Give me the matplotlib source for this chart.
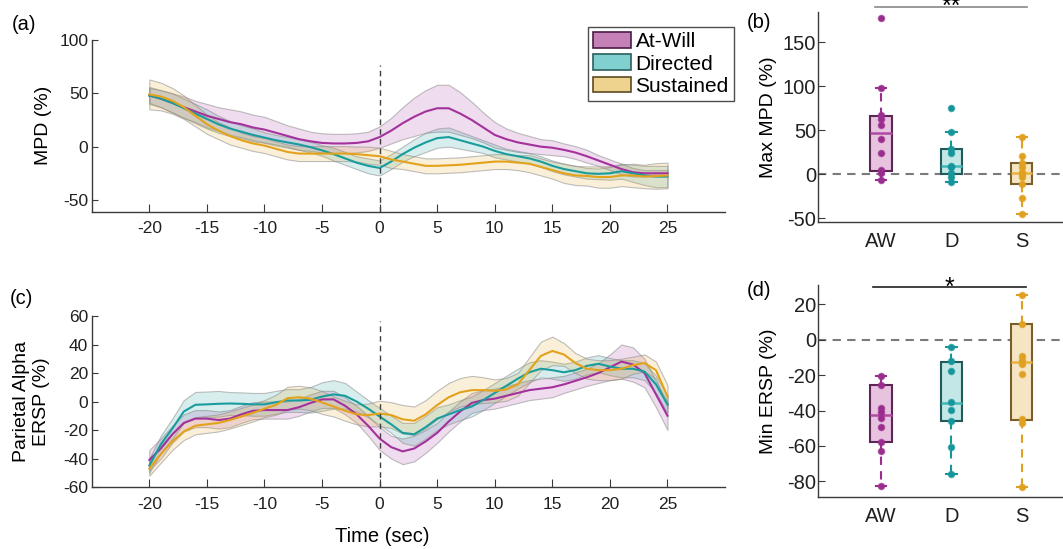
import numpy as np
import matplotlib
matplotlib.use("Agg")
import matplotlib.pyplot as plt
from matplotlib.patches import Patch

plt.rcParams['font.family'] = ['Liberation Sans', 'DejaVu Sans']
plt.rcParams['axes.unicode_minus'] = False

# ---- time courses (1 s steps, -20..25 s) ----
time = np.arange(-20, 26)

mpd_aw = [48, 45, 41, 37, 33, 29, 26, 23, 21, 18, 16, 13, 10, 7, 5, 3.5, 3, 3, 3.5, 5,
          9, 15, 22, 28, 33, 36, 36, 31, 25, 18, 11, 7, 4, 2, 0, -1, -3, -5.5, -9, -13,
          -17, -21, -24, -25, -25, -25]
mpd_aw_err = [7, 8, 9, 10, 10, 11, 11, 12, 12, 12, 12, 11, 10, 10, 9, 9, 9, 9, 9, 9,
              10, 12, 15, 18, 20, 22, 22, 20, 17, 14, 12, 10, 9, 8, 7, 7, 6, 6, 6, 5,
              5, 5, 4, 3, 3, 3]
mpd_d = [48, 45, 41, 36, 31, 26, 21, 17, 14, 11, 8.5, 6, 4, 2, -0.5, -3.5, -7, -11, -15, -18,
         -20, -14, -7, -1, 4, 8, 9, 6, 3, 0, -4, -7, -9, -11, -14, -18, -21, -23, -25, -25.5,
         -25, -23, -25, -27, -28, -28]
mpd_d_err = [8, 8, 9, 9, 9, 9, 8, 7, 6, 6, 5, 5, 5, 5, 5, 5, 6, 6, 6, 7,
             7, 7, 7, 8, 9, 9, 9, 8, 7, 6, 6, 5, 5, 5, 5, 5, 5, 5, 5, 5,
             6, 7, 8, 9, 10, 10]
mpd_s = [49, 47, 43, 37, 29, 21, 15, 10, 6, 3, 1, -2, -5, -6.5, -6.5, -6.5, -6.5, -6.5, -7, -8,
         -9, -12, -14, -16, -18, -18, -17.5, -17, -16, -15, -14, -14, -15, -16, -19, -22, -25, -27, -27.5, -28.5,
         -28.5, -27, -27, -28, -27.5, -27]
mpd_s_err = [14, 13, 12, 11, 10, 9, 8, 8, 7, 7, 7, 7, 7, 7, 7, 7, 7, 7, 7, 8,
             8, 8, 7, 7, 7, 7, 7, 7, 7, 7, 7, 7, 7, 8, 8, 8, 9, 9, 9, 10,
             10, 10, 11, 11, 12, 12]

ersp_aw = [-41, -33, -23, -15, -12, -12, -13, -12, -9, -6.5, -6, -6, -6, -4, -1, 1.5, 1.5, -3, -9, -17,
           -26, -32, -35, -33, -28, -22, -14, -7, -1, 1, 2, 4, 6, 8, 9, 10, 12, 14.5, 17, 20,
           24, 28, 26, 20, 5, -10]
ersp_aw_err = [7, 7, 6, 6, 6, 6, 6, 6, 6, 6, 6, 6, 6, 6, 6, 6, 6, 6, 6, 7,
               8, 8, 9, 9, 8, 7, 7, 7, 7, 7, 7, 7, 7, 7, 7, 7, 6, 6, 6, 7,
               9, 12, 12, 10, 9, 10]
ersp_d = [-45, -30, -19, -7, -2.3, -2, -1.6, -1.4, -1.6, -2, -2, -0.5, 0.7, 0.7, 1.2, 3.5, 5, 4, 0, -5,
          -10.5, -16, -22, -23, -18, -12, -9, -6, -3.5, 1, 6, 11, 16, 20.5, 23, 22, 20.5, 22, 25, 26.5,
          24.5, 23, 23, 21, 12, -2]
ersp_d_err = [5, 6, 7, 8, 9, 9, 9, 8, 8, 8, 8, 8, 8, 8, 9, 10, 10, 9, 7, 6,
              6, 6, 7, 8, 8, 8, 7, 7, 7, 7, 7, 7, 7, 7, 6, 6, 6, 6, 6, 6,
              6, 6, 6, 6, 6, 6]
ersp_s = [-47, -37, -28, -21, -17, -16, -15, -13, -10.5, -8, -5, -2.3, 2.3, 3, 2, -0.7, -3.5, -6.5, -9, -9.5,
          -8.4, -9.5, -12.5, -13.5, -9, -2.5, 3, 6.5, 8, 8, 7.5, 8.5, 12, 22, 32, 35.5, 33, 27, 23, 22,
          22, 23, 25.5, 27, 22, 3.5]
ersp_s_err = [5, 6, 6, 6, 6, 6, 6, 6, 6, 6, 6, 7, 8, 8, 8, 8, 7, 7, 7, 8,
              9, 9, 10, 10, 10, 10, 10, 10, 10, 9, 8, 8, 8, 9, 10, 10, 8, 7, 7, 7,
              7, 7, 6, 6, 6, 8]

# ---- box plot summaries ----
groups = ['AW', 'D', 'S']
max_mpd_pts = [[178, 98.5, 67, 63.5, 56, 40, 24.5, 5, 2, -6.5],
               [76, 48.5, 29, 24.5, 10, 8, 1, -2.7, -8.3],
               [42.4, 21, 12.5, 8.7, 3, 0.4, -2.7, -11.4, -26.5, -44.7]]
max_mpd_box = [(4.2, 47.3, 66.7, -6.5, 98.5), (0.4, 9.8, 28.4, -8.3, 48.5), (-11.4, 1.5, 12.5, -44.7, 42.4)]
min_ersp_pts = [[-20.2, -25.8, -38.7, -40.6, -44.3, -49.4, -57.5, -62.6, -82.6],
                [-4.3, -11.9, -17.4, -35.3, -39.6, -45.8, -60.4, -75.7],
                [25.1, 9.2, -9.2, -11.5, -13.8, -19.2, -44.9, -47.2, -83.2]]
min_ersp_box = [(-57.5, -42.5, -25.8, -82.6, -20.2), (-45.8, -35.5, -12.3, -75.7, -4.3), (-45.3, -12.3, 9.2, -83.2, 25.1)]

labels = ['At-Will', 'Directed', 'Sustained']
line_c = ['#a3329c', '#1a9c9c', '#e3a21c']
patch_c = ['#c680b8', '#80d0d0', '#edd38e']
patch_ec = ['#4a1c44', '#2c5e5e', '#5e4a22']
box_fc = ['#e8c3e0', '#c3e7e7', '#f6e5c3']
box_ec = ['#5c2755', '#205a5a', '#7a5f2c']
med_c = ['#b04aa2', '#3fb8b8', '#e9b23a']
pt_c = ['#992e8f', '#16969a', '#e0a020']

axis_c = '#3a3a3a'


def style(ax, ticksize):
    for s in ['top', 'right']:
        ax.spines[s].set_visible(False)
    for s in ['left', 'bottom']:
        ax.spines[s].set_color(axis_c)
        ax.spines[s].set_linewidth(1.0)
    ax.tick_params(direction='in', colors=axis_c, labelcolor='#202020', labelsize=ticksize)


def time_panel(ax, series, errs, ylim, yticks, ytop):
    for y, e, c in zip(series, errs, line_c):
        y = np.array(y, float)
        e = np.array(e, float)
        rgb = matplotlib.colors.to_rgb(c)
        ax.fill_between(time, y - e, y + e, facecolor=rgb + (0.17,),
                        edgecolor=(0.55, 0.55, 0.55, 0.55), linewidth=0.8)
    for y, c in zip(series, line_c):
        ax.plot(time, y, color=c, lw=1.5)
    ax.plot([0, 0], [ylim[0], ytop], ls=(0, (4, 3)), color='#404040', lw=1.0)
    ax.set_xlim(-25, 30)
    ax.set_ylim(*ylim)
    ax.set_xticks(range(-20, 26, 5))
    ax.set_yticks(yticks)
    style(ax, 12.5)
    ax.tick_params(axis='x', length=6, pad=7)
    ax.tick_params(axis='y', length=4.5, pad=2.5)


def box_panel(ax, pts, boxes, ylim, yticks):
    stats = []
    for (q1, med, q3, lo, hi) in boxes:
        stats.append(dict(q1=q1, med=med, q3=q3, whislo=lo, whishi=hi, fliers=[]))
    for i in range(3):
        ax.bxp([stats[i]], positions=[i + 1], widths=0.3, capwidths=0.15, patch_artist=True,
               showfliers=False,
               boxprops=dict(facecolor=box_fc[i], edgecolor=box_ec[i], linewidth=1.5),
               medianprops=dict(color=med_c[i], linewidth=1.8),
               whiskerprops=dict(color=pt_c[i], linestyle=(0, (4, 3)), linewidth=1.5),
               capprops=dict(color=pt_c[i], linewidth=1.5))
        ax.plot([i + 1] * len(pts[i]), pts[i], 'o', color=pt_c[i], ms=4.5,
                mec=matplotlib.colors.to_rgb(pt_c[i]) + (0.6,), zorder=5)
    ax.axhline(0, ls=(0, (4, 3)), color='#7a7a7a', lw=1.5, zorder=1)
    ax.set_xlim(0.11, 3.6)
    ax.set_ylim(*ylim)
    ax.set_yticks(yticks)
    ax.set_xticks([1, 2, 3])
    ax.set_xticklabels(groups)
    style(ax, 14.5)
    ax.tick_params(axis='x', length=0, pad=7)
    ax.tick_params(axis='y', length=5, pad=1.5)


fig = plt.figure(figsize=(10.63, 5.49), dpi=100)
ax_a = fig.add_axes([0.0863, 0.6144, 0.5958, 0.3127])
ax_c = fig.add_axes([0.0863, 0.1129, 0.5958, 0.3115])
ax_b = fig.add_axes([0.7698, 0.5951, 0.2312, 0.3836])
ax_d = fig.add_axes([0.7698, 0.0942, 0.2312, 0.3867])

time_panel(ax_a, [mpd_aw, mpd_d, mpd_s], [mpd_aw_err, mpd_d_err, mpd_s_err], (-61, 100), [-50, 0, 50, 100], 77)
ax_a.set_ylabel('MPD (%)', fontsize=14)
ax_a.yaxis.set_label_coords(-0.062, 0.5)

time_panel(ax_c, [ersp_aw, ersp_d, ersp_s], [ersp_aw_err, ersp_d_err, ersp_s_err], (-60, 60), range(-60, 61, 20), 56.5)
ax_c.set_ylabel('Parietal Alpha\nERSP (%)', fontsize=14, linespacing=1.25)
ax_c.yaxis.set_label_coords(-0.066, 0.5)

handles = [Patch(facecolor=patch_c[i], edgecolor=patch_ec[i], lw=1.2) for i in range(3)]
leg = fig.legend(handles, labels, loc='upper right', bbox_to_anchor=(734 / 1063, 1 - 27 / 549),
                 fontsize=15, frameon=True, fancybox=False, edgecolor='#202020',
                 handlelength=1.85, handleheight=0.78, labelspacing=0.15, handletextpad=0.2,
                 borderpad=0.25, borderaxespad=0)
leg.get_frame().set_linewidth(1.0)

box_panel(ax_b, max_mpd_pts, max_mpd_box, (-54.5, 185), [-50, 0, 50, 100, 150])
ax_b.set_ylabel('Max MPD (%)', fontsize=14)
ax_b.yaxis.set_label_coords(-0.169, 0.5)
ax_b.plot([0.91, 3.08], [190, 190], color='#888888', lw=1.2, clip_on=False)
ax_b.text(2.0, 182, '**', fontsize=18, ha='center', va='baseline', clip_on=False)

box_panel(ax_d, min_ersp_pts, min_ersp_box, (-89, 31), [-80, -60, -40, -20, 0, 20])
ax_d.set_ylabel('Min ERSP (%)', fontsize=14)
ax_d.yaxis.set_label_coords(-0.169, 0.5)
ax_d.plot([0.88, 3.06], [30, 30], color='#202020', lw=1.2, clip_on=False)
ax_d.text(1.98, 25.5, '*', fontsize=18, ha='center', va='baseline', clip_on=False)

fig.text(382 / 1063, 1 - 537 / 549, 'Time (sec)', fontsize=14.5, ha='center', va='center')
for lab, x, y in [('(a)', 12, 25), ('(c)', 10, 298), ('(b)', 747, 23), ('(d)', 747, 290)]:
    fig.text(x / 1063, 1 - y / 549, lab, fontsize=14.5, ha='left', va='center')

fig.savefig('out.png', dpi=100)
